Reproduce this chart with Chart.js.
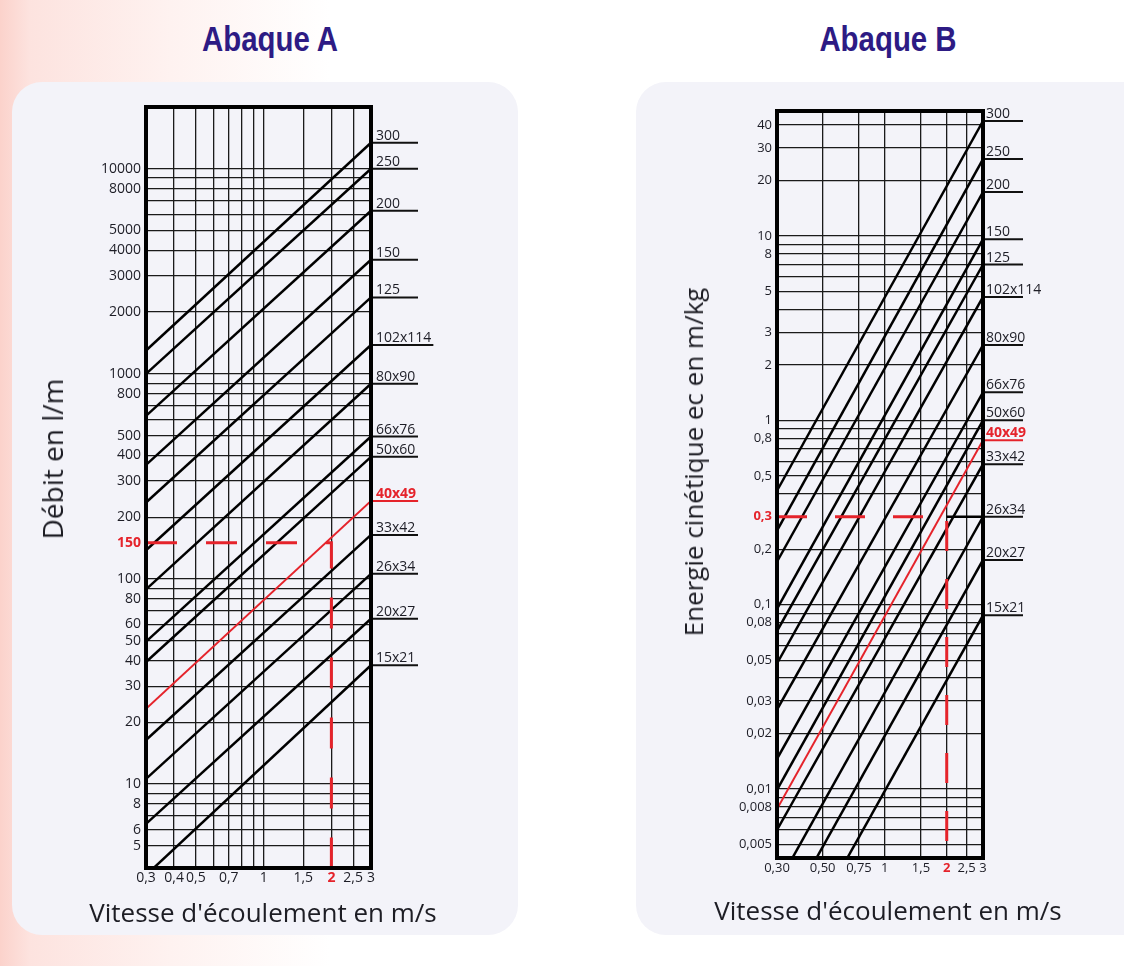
<!DOCTYPE html>
<html lang="fr">
<head>
<meta charset="utf-8">
<title>Abaques A et B</title>
<script src="https://cdn.jsdelivr.net/npm/chart.js@4/dist/chart.umd.min.js"></script>
<style>
  html, body { margin: 0; padding: 0; }
  body {
    width: 1124px; height: 966px; overflow: hidden; position: relative;
    background: linear-gradient(90deg, #fbd2cb 0px, #fde3df 30px, #fef2f0 170px, #ffffff 330px);
    font-family: 'Open Sans', sans-serif;
  }
  .panel { position: absolute; background: #f3f3f9; border-radius: 30px; }
  #panelA { left: 12px; top: 82px; width: 506px; height: 853px; }
  #panelB { left: 636px; top: 82px; width: 530px; height: 853px; }
  .title {
    position: absolute; top: 19px; transform: translateX(-50%) scaleX(0.84); white-space: nowrap;
    font-family: 'Liberation Sans', Arial, sans-serif;
    font-weight: bold; font-size: 35px; color: #2d1b84;
  }
  .axis-title {
    position: absolute; white-space: nowrap; font-size: 26px; color: #1d1d24;
    transform: translate(-50%, -50%);
  }
  .axis-title.vertical { transform: translate(-50%, -50%) rotate(-90deg); }
  canvas { position: absolute; left: 0; top: 0; }
</style>
</head>
<body>
<div class="title" style="left:270px">Abaque A</div>
<div class="title" style="left:888px">Abaque B</div>

<div class="panel" id="panelA"><canvas id="chartA" width="506" height="853"></canvas></div>
<div class="panel" id="panelB"><canvas id="chartB" width="488" height="853"></canvas></div>

<div class="axis-title vertical" style="left:52px; top:459px; font-size:28px">Débit en l/m</div>
<div class="axis-title" style="left:263px; top:912px">Vitesse d'écoulement en m/s</div>
<div class="axis-title vertical" style="left:693px; top:462px">Energie cinétique ec en m/kg</div>
<div class="axis-title" style="left:888px; top:910px">Vitesse d'écoulement en m/s</div>

<script>
// Diamètres des tubes (étiquettes de droite)
const pipeSizes = ['300', '250', '200', '150', '125', '102x114', '80x90', '66x76', '50x60', '40x49', '33x42', '26x34', '20x27', '15x21'];
const highlightPipe = '40x49';

// Abaque A : débit (l/m) lu au bord gauche (0,3 m/s) et au bord droit (3 m/s)
const debitAtMin = [1300, 1000, 624, 360, 236, 138, 89, 49.5, 39.4, 23.3, 16.4, 10.6, 6.4, 3.6];
const debitAtMax = [13400, 10000, 6240, 3600, 2360, 1383, 895, 495, 394, 240, 164, 106, 64, 38];

// Abaque B : énergie cinétique (m/kg) au bord gauche (0,30 m/s) et au bord droit (3 m/s)
const energieAtMin = [0.415, 0.252, 0.171, 0.095, 0.072, 0.048, 0.027, 0.0146, 0.0099, 0.0078, 0.006, 0.003, 0.00175, 0.00088];
const energieAtMax = [42, 26.1, 17.3, 9.6, 7.0, 4.67, 2.56, 1.42, 1.0, 0.78, 0.578, 0.30, 0.175, 0.0876];

// Exemple de lecture (tirets rouges)
const exampleSpeed = 2;
const exampleDebit = 150;
const exampleEnergie = 0.3;

// Axe des vitesses
const speedRange = [0.3, 3];
const speedGridA = [0.3, 0.4, 0.5, 0.6, 0.7, 0.8, 0.9, 1, 1.5, 2, 2.5, 3];
const speedTicksA = [0.3, 0.4, 0.5, 0.7, 1, 1.5, 2, 2.5, 3];
const speedLabelsA = ['0,3', '0,4', '0,5', '0,7', '1', '1,5', '2', '2,5', '3'];
const speedGridB = [0.3, 0.5, 0.75, 1, 1.5, 2, 2.5, 3];
const speedTicksB = [0.3, 0.5, 0.75, 1, 1.5, 2, 2.5, 3];
const speedLabelsB = ['0,30', '0,50', '0,75', '1', '1,5', '2', '2,5', '3'];

// Axe des débits
const debitRange = [3.9, 20000];
const debitGrid = [5, 6, 7, 8, 9, 10, 20, 30, 40, 50, 60, 70, 80, 90, 100, 150, 200, 300, 400, 500, 600, 700, 800, 900,
  1000, 2000, 3000, 4000, 5000, 6000, 7000, 8000, 9000, 10000];
const debitTicks = [5, 6, 8, 10, 20, 30, 40, 50, 60, 80, 100, 150, 200, 300, 400, 500, 800, 1000, 2000, 3000, 4000, 5000, 8000, 10000];
const debitLabels = ['5', '6', '8', '10', '20', '30', '40', '50', '60', '80', '100', '150', '200', '300', '400', '500', '800',
  '1000', '2000', '3000', '4000', '5000', '8000', '10000'];

// Axe des énergies
const energieRange = [0.00423, 47.6];
const energieGrid = [0.005, 0.006, 0.007, 0.008, 0.009, 0.01, 0.02, 0.03, 0.04, 0.05, 0.06, 0.07, 0.08, 0.09,
  0.1, 0.2, 0.3, 0.4, 0.5, 0.6, 0.7, 0.8, 0.9, 1, 2, 3, 4, 5, 6, 7, 8, 9, 10, 20, 30, 40];
const energieTicks = [0.005, 0.008, 0.01, 0.02, 0.03, 0.05, 0.08, 0.1, 0.2, 0.3, 0.5, 0.8, 1, 2, 3, 5, 8, 10, 20, 30, 40];
const energieLabels = ['0,005', '0,008', '0,01', '0,02', '0,03', '0,05', '0,08', '0,1', '0,2', '0,3', '0,5', '0,8',
  '1', '2', '3', '5', '8', '10', '20', '30', '40'];

const RED = '#e5232b';
const INK = '#1d1d26';
const FONT = "'Open Sans', sans-serif";

// Étiquettes des tubes à droite + cadre épais
const nomogramDecor = {
  id: 'nomogramDecor',
  afterDatasetsDraw(chart, args, opts) {
    const { ctx, chartArea: a, scales: { y } } = chart;
    ctx.save();
    opts.values.forEach((v, i) => {
      const name = pipeSizes[i];
      const hl = name === highlightPipe;
      const py = y.getPixelForValue(v);
      ctx.font = (hl ? 'bold ' : '') + opts.fontSize + 'px ' + FONT;
      const textW = ctx.measureText(name).width;
      const len = opts.fitText ? Math.max(opts.lineLength, textW + opts.textOffset + 2) : opts.lineLength;
      ctx.strokeStyle = hl ? RED : '#111';
      ctx.lineWidth = 2;
      ctx.beginPath();
      ctx.moveTo(a.right, py);
      ctx.lineTo(a.right + len, py);
      ctx.stroke();
      ctx.fillStyle = hl ? RED : INK;
      ctx.textBaseline = 'alphabetic';
      ctx.fillText(name, a.right + opts.textOffset, py - 3);
    });
    ctx.lineWidth = 4;
    ctx.strokeStyle = '#000';
    ctx.strokeRect(a.left, a.top, a.right - a.left, a.bottom - a.top);
    ctx.restore();
  }
};

function pipeDatasets(lowValues, highValues) {
  return pipeSizes.map((name, i) => ({
    label: name,
    data: [{ x: speedRange[0], y: lowValues[i] }, { x: speedRange[1], y: highValues[i] }],
    borderColor: name === highlightPipe ? RED : '#000',
    borderWidth: name === highlightPipe ? 2 : 2.5,
    order: name === highlightPipe ? 1 : 2
  }));
}

function buildChart(canvasId, cfg) {
  return new Chart(document.getElementById(canvasId), {
    type: 'scatter',
    data: { datasets: cfg.datasets },
    options: {
      responsive: false,
      maintainAspectRatio: false,
      animation: false,
      events: [],
      showLine: true,
      elements: { point: { radius: 0 }, line: { tension: 0 } },
      layout: { padding: cfg.padding },
      plugins: {
        legend: { display: false },
        tooltip: { enabled: false },
        nomogramDecor: cfg.decor
      },
      scales: {
        x: {
          type: 'logarithmic',
          min: speedRange[0],
          max: speedRange[1],
          afterBuildTicks: axis => { axis.ticks = cfg.xGrid.map(v => ({ value: v })); },
          afterFit: axis => { axis.height = 20; },
          border: { display: false },
          grid: { color: '#1a1a1a', lineWidth: 1.3, drawTicks: false },
          ticks: {
            autoSkip: false, maxRotation: 0, minRotation: 0, padding: 2,
            callback: v => { const k = cfg.xTicks.indexOf(v); return k >= 0 ? cfg.xLabels[k] : ''; },
            color: c => c.tick.value === exampleSpeed ? RED : INK,
            font: c => ({ family: FONT, size: cfg.tickSize, weight: c.tick.value === exampleSpeed ? 'bold' : 'normal' })
          }
        },
        y: {
          type: 'logarithmic',
          min: cfg.yRange[0],
          max: cfg.yRange[1],
          afterBuildTicks: axis => { axis.ticks = cfg.yGrid.map(v => ({ value: v })); },
          afterFit: axis => { axis.width = 60; },
          border: { display: false },
          grid: {
            lineWidth: 1.3, drawTicks: false,
            color: c => c.tick && c.tick.value === cfg.yGuide ? 'rgba(0,0,0,0)' : '#1a1a1a'
          },
          ticks: {
            autoSkip: false, padding: 5,
            callback: v => { const k = cfg.yTicks.indexOf(v); return k >= 0 ? cfg.yLabels[k] : ''; },
            color: c => c.tick.value === cfg.yGuide ? RED : INK,
            font: c => ({ family: FONT, size: cfg.tickSize, weight: c.tick.value === cfg.yGuide ? 'bold' : 'normal' })
          }
        }
      }
    },
    plugins: [nomogramDecor]
  });
}

// Abaque A
buildChart('chartA', {
  padding: { left: 74, right: 147, top: 25, bottom: 47 },
  xGrid: speedGridA, xTicks: speedTicksA, xLabels: speedLabelsA,
  yGrid: debitGrid, yTicks: debitTicks, yLabels: debitLabels, yRange: debitRange,
  yGuide: exampleDebit,
  tickSize: 14,
  decor: { values: debitAtMax, fontSize: 14, lineLength: 47, textOffset: 5, fitText: true },
  datasets: [
    {
      label: 'lecture',
      data: [{ x: speedRange[0], y: exampleDebit }, { x: exampleSpeed, y: exampleDebit }, { x: exampleSpeed, y: debitRange[0] }],
      borderColor: RED, borderWidth: 3, borderDash: [31, 29], order: 0
    },
    ...pipeDatasets(debitAtMin, debitAtMax)
  ]
});

// Abaque B
buildChart('chartB', {
  padding: { left: 81, right: 141, top: 29, bottom: 57 },
  xGrid: speedGridB, xTicks: speedTicksB, xLabels: speedLabelsB,
  yGrid: energieGrid, yTicks: energieTicks, yLabels: energieLabels, yRange: energieRange,
  yGuide: exampleEnergie,
  tickSize: 13,
  decor: { values: energieAtMax, fontSize: 14, lineLength: 40, textOffset: 3, fitText: false },
  datasets: [
    {
      label: 'lecture',
      data: [{ x: speedRange[0], y: exampleEnergie }, { x: exampleSpeed, y: exampleEnergie }, { x: exampleSpeed, y: energieRange[0] }],
      borderColor: RED, borderWidth: 3, borderDash: [30, 28], order: 0
    },
    {
      label: 'lecture-suite',
      data: [{ x: exampleSpeed, y: exampleEnergie }, { x: speedRange[1], y: exampleEnergie }],
      borderColor: '#000', borderWidth: 2.5, order: 2
    },
    ...pipeDatasets(energieAtMin, energieAtMax)
  ]
});
</script>
</body>
</html>
